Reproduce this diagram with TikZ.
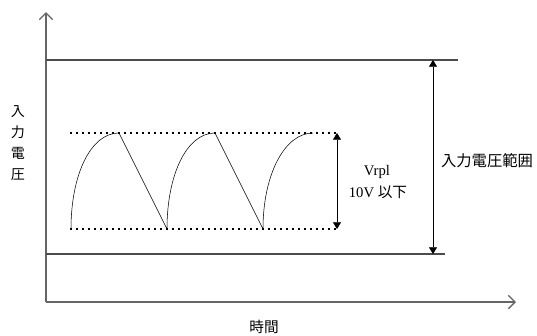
\documentclass[tikz,border=0pt]{standalone}
\usepackage{fontspec}
\setmainfont{Liberation Serif}
\newfontfamily\cjk{Noto Sans CJK JP}
\usetikzlibrary{arrows.meta}

\begin{document}
\begin{tikzpicture}[
	x=0.75pt, y=-0.75pt,
	axis/.style={ draw=black!60, line width=1pt, -{Straight Barb[length=5pt,width=10pt]} },
	limit/.style={ draw=black!70, line width=0.8pt },
	dots/.style={ thick, dash pattern=on 1.2pt off 3.3pt },
	wave/.style={ thin },
	span/.style={ thin, {Triangle[length=5pt,width=6pt]}-{Triangle[length=5pt,width=6pt]} },
	lbl/.style={ inner sep=0pt, font=\fontsize{11}{14}\selectfont, align=center }
]
\useasboundingbox (0,0) rectangle (537,336);

\coordinate (o) at (46,302);
\coordinate (ytop) at (46,12);
\coordinate (xend) at (516,302);
\draw[axis] (o) -- (ytop);
\draw[axis] (o) -- (xend);

% input range limits
\coordinate (hi0) at (46,60);  \coordinate (hi1) at (458,60);
\coordinate (lo0) at (46,254); \coordinate (lo1) at (445,254);
\draw[limit] (hi0) -- (hi1);
\draw[limit] (lo0) -- (lo1);
\draw[span] (433,60) coordinate (rhi) -- (433,254) coordinate (rlo);

% ripple band
\coordinate (p0) at (70,133); \coordinate (p1) at (338,133);
\coordinate (q0) at (70,229); \coordinate (q1) at (338,229);
\draw[dots] (p0) -- (p1);
\draw[dots] (q0) -- (q1);
\draw[span] (337,133) coordinate (vhi) -- (337,229) coordinate (vlo);

% waveform
\draw[wave] (71,229) .. controls +(0,-55) and +(-28,0) .. (119,133)
	-- (167,229) .. controls +(0,-55) and +(-28,0) .. (215,133)
	-- (263,229) .. controls +(0,-55) and +(-28,0) .. (313,133);

\node at (377,172) (vrpl) [lbl] {Vrpl};
\node at (378,192) (vmax) [lbl] {10V {\cjk 以下}};
\node at (487,161) (range) [lbl, font=\cjk\fontsize{11.5}{14}\selectfont] {入力電圧範囲};
\node at (18,143) (ylbl) [lbl, font=\cjk\fontsize{10.5}{15.75}\selectfont] {入\\力\\電\\圧};
\node at (264,327) (xlbl) [lbl] {\cjk 時間};

\end{tikzpicture}
\end{document}
